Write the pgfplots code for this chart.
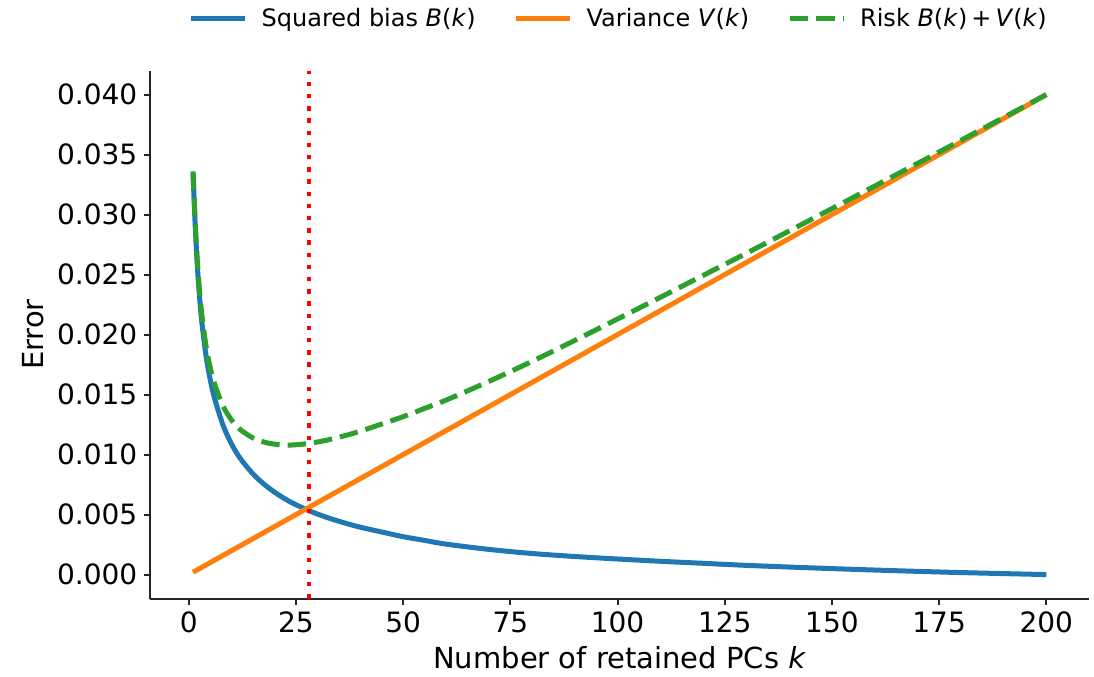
\documentclass[border=0pt]{standalone}
\usepackage{fontspec}
\setmainfont{DejaVu Sans}
\usepackage{pgfplots}
\pgfplotsset{compat=1.18}
\usepackage{pgfplotstable}

\definecolor{tabblue}{HTML}{1F77B4}
\definecolor{taborange}{HTML}{FF7F0E}
\definecolor{tabgreen}{HTML}{2CA02C}

% k, squared bias B, variance V, risk R = B + V
\pgfplotstableread{
k    B        V       R
1    0.0334   0.0002  0.0336
1.5  0.0291   0.0003  0.0294
2    0.0257   0.0004  0.0261
2.5  0.0232   0.0005  0.0237
3    0.0212   0.0006  0.0218
4    0.0183   0.0008  0.0191
5    0.01625  0.0010  0.01725
6    0.0147   0.0012  0.0159
8    0.01244  0.0016  0.01404
10   0.01087  0.0020  0.01287
12   0.00969  0.0024  0.01209
15   0.00838  0.0030  0.01138
18   0.00740  0.0036  0.01100
21   0.00663  0.0042  0.01083
24   0.00600  0.0048  0.01080
28   0.00533  0.0056  0.01093
32   0.00479  0.0064  0.01119
36   0.00434  0.0072  0.01154
40   0.00395  0.0080  0.01195
45   0.00355  0.0090  0.01255
50   0.00316  0.0100  0.01316
55   0.00285  0.0110  0.01385
60   0.00254  0.0120  0.01454
70   0.00210  0.0140  0.01610
80   0.00176  0.0160  0.01776
90   0.00151  0.0180  0.01951
100  0.00130  0.0200  0.02130
110  0.00111  0.0220  0.02311
120  0.00094  0.0240  0.02494
130  0.00077  0.0260  0.02677
140  0.00063  0.0280  0.02863
150  0.00050  0.0300  0.03050
160  0.00038  0.0320  0.03238
170  0.00027  0.0340  0.03427
180  0.00017  0.0360  0.03617
190  0.000084 0.0380  0.038084
200  0.0      0.0400  0.0400
}\errdata

\begin{document}
\begin{tikzpicture}
\begin{axis}[
    name=ax,
    scale only axis,
    width=469.3pt, height=264pt,
    xmin=-8.95, xmax=209.95,
    ymin=-0.002, ymax=0.042,
    axis x line*=bottom, axis y line*=left,
    axis line style={-, line width=1pt, draw=black!85},
    xtick={0,25,50,75,100,125,150,175,200},
    ytick={0,0.005,0.010,0.015,0.020,0.025,0.030,0.035,0.040},
    tick align=outside,
    major tick length=3pt,
    tick style={line width=1pt, black!85},
    scaled y ticks=false,
    yticklabel style={/pgf/number format/fixed, /pgf/number format/fixed zerofill,
        /pgf/number format/precision=3},
    /pgf/number format/assume math mode=true,
    ticklabel style={font=\fontsize{14}{16}\selectfont},
    label style={font=\fontsize{14.5}{17}\selectfont},
    xlabel={Number of retained PCs \textit{k}},
    ylabel={Error},
    legend columns=3,
    legend style={draw=none, fill=none, at={(0.5,1.0985)}, anchor=center,
        font=\fontsize{12}{14}\selectfont,
        /tikz/every even column/.append style={column sep=17pt}},
    legend image code/.code={\draw[#1] (0pt,0pt) -- (27pt,0pt);},
]
\addplot[tabblue, line width=2.5pt, smooth, tension=0.5] table[x=k, y=B] {\errdata};
\addlegendentry{\hspace*{5pt}Squared bias \textit{B}(\textit{k})}
\addplot[taborange, line width=2.5pt] table[x=k, y=V] {\errdata};
\addlegendentry{\hspace*{5pt}Variance \textit{V}(\textit{k})}
\addplot[tabgreen, line width=2.5pt, smooth, tension=0.5, dash pattern=on 9.25pt off 4pt] table[x=k, y=R] {\errdata};
\addlegendentry{\hspace*{5pt}Risk \textit{B}(\textit{k})\,+\,\textit{V}(\textit{k})}
% chosen k
\addplot[red, line width=2.2pt, dash pattern=on 2.2pt off 3.9pt, forget plot] coordinates {(28,-0.002) (28,0.042)};
\end{axis}
\pgfresetboundingbox
\path (ax.south west) ++(-75.2pt,-38.7pt) rectangle ++(547pt,338pt);
\end{tikzpicture}
\end{document}
